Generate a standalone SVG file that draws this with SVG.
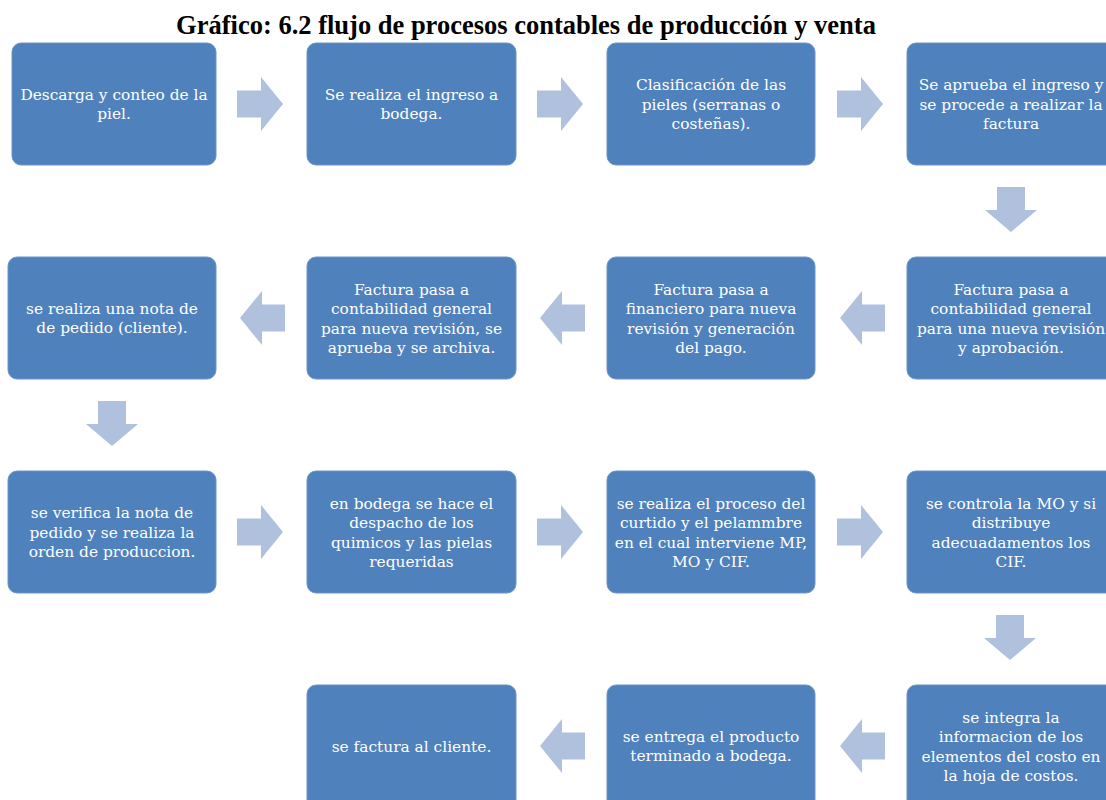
<svg xmlns="http://www.w3.org/2000/svg" xmlns:xlink="http://www.w3.org/1999/xlink" width="1106" height="800" viewBox="0 0 1106 800">
<style>
.box{fill:#4F81BD;stroke:#6E94C8;stroke-width:1}
.t{font-family:"DejaVu Serif","Liberation Serif",serif;font-size:15.4px;fill:#FFFFFF;text-anchor:middle}
.title{font-family:"Liberation Serif","Times New Roman",serif;font-size:26.5px;font-weight:bold;fill:#000000;text-anchor:middle}
.arr{fill:#B0C1DD}
</style>
<defs>
<path id="ar" d="M0,-13.5 H24 V-27 L46,0 L24,27 V13.5 H0 Z"/>
<path id="al" d="M0,0 L22,-27 V-13.5 H45 V13.5 H22 V27 Z"/>
<path id="ad" d="M-14,0 H14 V23 H26 L0,45 L-26,23 H-14 Z"/>
</defs>
<rect width="1106" height="800" fill="#FFFFFF"/>
<text class="title" x="526" y="34">Gráfico: 6.2 flujo de procesos contables de producción y venta</text>

<g id="connectors" class="arr">
<use xlink:href="#ar" x="237" y="104"/>
<use xlink:href="#ar" x="537" y="104"/>
<use xlink:href="#ar" x="837" y="104"/>
<use xlink:href="#ad" x="1011" y="187"/>
<use xlink:href="#al" x="840" y="318"/>
<use xlink:href="#al" x="540" y="318"/>
<use xlink:href="#al" x="240" y="318"/>
<use xlink:href="#ad" x="112" y="401"/>
<use xlink:href="#ar" x="237" y="532"/>
<use xlink:href="#ar" x="537" y="532"/>
<use xlink:href="#ar" x="837" y="532"/>
<use xlink:href="#ad" x="1010" y="615"/>
<use xlink:href="#al" x="840" y="746"/>
<use xlink:href="#al" x="540" y="746"/>
</g>

<g id="n1"><rect class="box" x="12" y="43" width="204" height="122" rx="9"/>
<text class="t" x="114"><tspan x="114" y="99.5">Descarga y conteo de la</tspan><tspan x="114" y="119">piel.</tspan></text></g>
<g id="n2"><rect class="box" x="307" y="43" width="209" height="122" rx="9"/>
<text class="t"><tspan x="411.5" y="99.5">Se realiza el ingreso a</tspan><tspan x="411.5" y="119">bodega.</tspan></text></g>
<g id="n3"><rect class="box" x="607" y="43" width="208" height="122" rx="9"/>
<text class="t"><tspan x="711" y="90">Clasificación de las</tspan><tspan x="711" y="109.5">pieles (serranas o</tspan><tspan x="711" y="129">costeñas).</tspan></text></g>
<g id="n4"><rect class="box" x="907" y="43" width="210" height="122" rx="9"/>
<text class="t"><tspan x="1011" y="90">Se aprueba el ingreso y</tspan><tspan x="1011" y="109.5">se procede a realizar la</tspan><tspan x="1011" y="129">factura</tspan></text></g>

<g id="n5"><rect class="box" x="907" y="257" width="210" height="122" rx="9"/>
<text class="t"><tspan x="1011" y="294.5">Factura pasa a</tspan><tspan x="1011" y="314">contabilidad general</tspan><tspan x="1011" y="333.5">para una nueva revisión</tspan><tspan x="1011" y="353">y aprobación.</tspan></text></g>
<g id="n6"><rect class="box" x="607" y="257" width="208" height="122" rx="9"/>
<text class="t"><tspan x="711" y="294.5">Factura pasa a</tspan><tspan x="711" y="314">financiero para nueva</tspan><tspan x="711" y="333.5">revisión y generación</tspan><tspan x="711" y="353">del pago.</tspan></text></g>
<g id="n7"><rect class="box" x="307" y="257" width="209" height="122" rx="9"/>
<text class="t"><tspan x="411.5" y="294.5">Factura pasa a</tspan><tspan x="411.5" y="314">contabilidad general</tspan><tspan x="411.5" y="333.5">para nueva revisión, se</tspan><tspan x="411.5" y="353">aprueba y se archiva.</tspan></text></g>
<g id="n8"><rect class="box" x="8" y="257" width="208" height="122" rx="9"/>
<text class="t"><tspan x="112" y="313.5">se realiza una nota de</tspan><tspan x="112" y="333">de pedido (cliente).</tspan></text></g>

<g id="n9"><rect class="box" x="8" y="471" width="208" height="122" rx="9"/>
<text class="t"><tspan x="112" y="518">se verifica la nota de</tspan><tspan x="112" y="537.5">pedido y se realiza la</tspan><tspan x="112" y="557">orden de produccion.</tspan></text></g>
<g id="n10"><rect class="box" x="307" y="471" width="209" height="122" rx="9"/>
<text class="t"><tspan x="411.5" y="508.5">en bodega se hace el</tspan><tspan x="411.5" y="528">despacho de los</tspan><tspan x="411.5" y="547.5">quimicos y las pielas</tspan><tspan x="411.5" y="567">requeridas</tspan></text></g>
<g id="n11"><rect class="box" x="607" y="471" width="208" height="122" rx="9"/>
<text class="t"><tspan x="711" y="508.5">se realiza el proceso del</tspan><tspan x="711" y="528">curtido y el pelammbre</tspan><tspan x="711" y="547.5">en el cual interviene MP,</tspan><tspan x="711" y="567">MO y CIF.</tspan></text></g>
<g id="n12"><rect class="box" x="907" y="471" width="210" height="122" rx="9"/>
<text class="t"><tspan x="1011" y="508.5">se controla la MO y si</tspan><tspan x="1011" y="528">distribuye</tspan><tspan x="1011" y="547.5">adecuadamentos los</tspan><tspan x="1011" y="567">CIF.</tspan></text></g>

<g id="n13"><rect class="box" x="907" y="685" width="210" height="125" rx="9"/>
<text class="t"><tspan x="1011" y="722.5">se integra la</tspan><tspan x="1011" y="742">informacion de los</tspan><tspan x="1011" y="761.5">elementos del costo en</tspan><tspan x="1011" y="781">la hoja de costos.</tspan></text></g>
<g id="n14"><rect class="box" x="607" y="685" width="208" height="125" rx="9"/>
<text class="t"><tspan x="711" y="741.5">se entrega el producto</tspan><tspan x="711" y="761">terminado a bodega.</tspan></text></g>
<g id="n15"><rect class="box" x="307" y="685" width="209" height="125" rx="9"/>
<text class="t"><tspan x="411.5" y="751.5">se factura al cliente.</tspan></text></g>
</svg>
